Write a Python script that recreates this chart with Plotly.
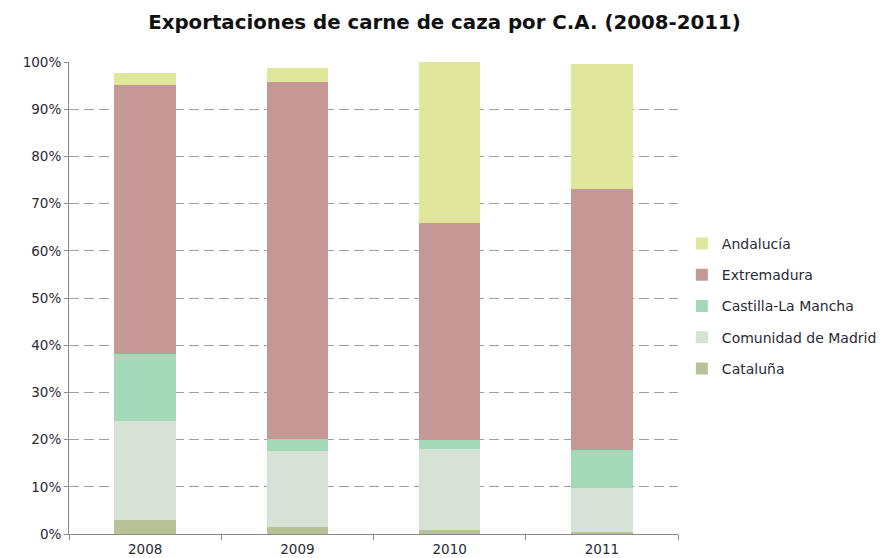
import plotly.graph_objects as go

years = ["2008", "2009", "2010", "2011"]

# Share of game-meat exports by autonomous community (fraction of total)
cataluna = [0.030, 0.015, 0.008, 0.005]
madrid = [0.210, 0.160, 0.173, 0.092]
castilla = [0.142, 0.027, 0.018, 0.081]
extremadura = [0.569, 0.755, 0.460, 0.552]
andalucia = [0.025, 0.031, 0.341, 0.265]

# stacked bottom to top; legend rank lists the top segment first
series = [
    ("Cataluña", cataluna, "#b7c397", 5),
    ("Comunidad de Madrid", madrid, "#d6e2d6", 4),
    ("Castilla-La Mancha", castilla, "#a3d8b8", 3),
    ("Extremadura", extremadura, "#c49894", 2),
    ("Andalucía", andalucia, "#e0e69c", 1),
]

fig = go.Figure()
for name, vals, color, rank in series:
    fig.add_trace(go.Bar(
        x=years, y=vals, name=name, legendgroup=name, legendrank=rank,
        marker=dict(color=color, line=dict(width=0)),
    ))

font_family = "DejaVu Sans, Verdana, sans-serif"
text_color = "#2a2a36"

fig.update_layout(
    barmode="stack",
    bargap=0.595,
    width=889, height=558,
    margin=dict(l=69, r=211, t=62, b=24, autoexpand=False),
    paper_bgcolor="white",
    plot_bgcolor="white",
    font=dict(family=font_family, size=13.5, color=text_color),
    title=dict(
        text="<b>Exportaciones de carne de caza por C.A. (2008-2011)</b>",
        x=0.5, xref="container", xanchor="center",
        y=0.96, yref="container", yanchor="middle",
        font=dict(family=font_family, size=19.8, color="#111111"),
    ),
    showlegend=True,
    legend=dict(
        traceorder="grouped",
        tracegroupgap=10,
        xref="container", x=0.767, xanchor="left",
        y=0.483, yanchor="middle",
        font=dict(size=14, color=text_color),
        itemwidth=30,
        bgcolor="rgba(0,0,0,0)",
    ),
    xaxis=dict(
        type="category",
        automargin=False,
        showline=True, linecolor="#8a8a8a", linewidth=1,
        ticks="outside", tickson="boundaries", ticklen=5, tickcolor="#8a8a8a",
        showgrid=False,
        ticklabelstandoff=3,
        tickfont=dict(size=13.5, color=text_color),
    ),
    yaxis=dict(
        range=[0, 1.0],
        automargin=False,
        tickvals=[i / 10 for i in range(11)],
        tickformat=".0%",
        showline=True, linecolor="#8a8a8a", linewidth=1,
        ticks="outside", ticklen=4, tickcolor="#8a8a8a",
        showgrid=True, gridcolor="#a0a0a0", griddash="10px,5px", gridwidth=1,
        zeroline=False,
        tickfont=dict(size=13.5, color=text_color),
    ),
)

fig.write_html("out.html")
